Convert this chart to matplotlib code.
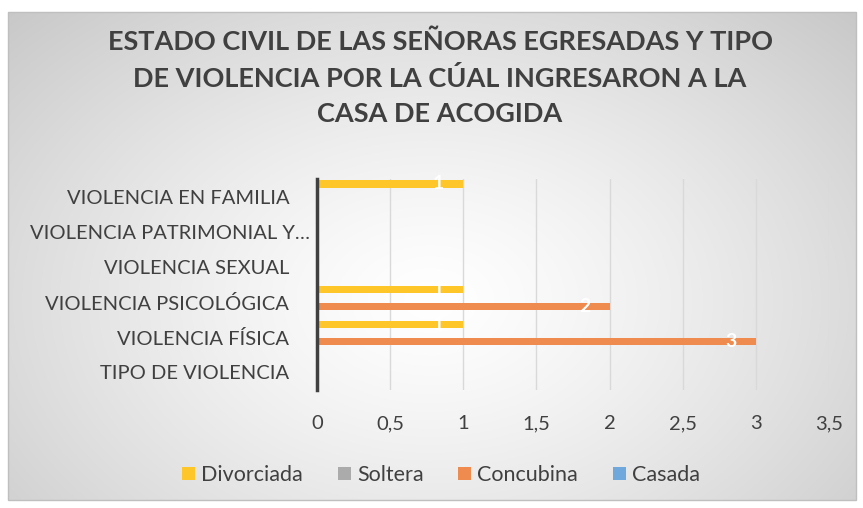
import numpy as np
import matplotlib
matplotlib.use("Agg")
import matplotlib.pyplot as plt
from matplotlib.transforms import ScaledTranslation
from matplotlib.patches import Rectangle

categorias = ["TIPO DE VIOLENCIA", "VIOLENCIA FÍSICA", "VIOLENCIA PSICOLÓGICA",
              "VIOLENCIA SEXUAL", "VIOLENCIA PATRIMONIAL Y…", "VIOLENCIA EN FAMILIA"]
series = ["Casada", "Concubina", "Soltera", "Divorciada"]
casada = [0, 0, 0, 0, 0, 0]
concubina = [0, 3, 2, 0, 0, 0]
soltera = [0, 0, 0, 0, 0, 0]
divorciada = [0, 1, 1, 0, 0, 1]
colores = ["#6FA8DC", "#EF8B4F", "#ABABAB", "#FFC629"]

plt.rcParams["font.family"] = ["Lato", "DejaVu Sans"]
txt = "#404040"

fig = plt.figure(figsize=(8.63, 5.08), dpi=100)

# radial gradient background
bg = fig.add_axes([0, 0, 1, 1], zorder=-2)
yy, xx = np.mgrid[0:508, 0:863]
r = np.sqrt(((xx - 430) / 600.0) ** 2 + ((yy - 300) / 420.0) ** 2)
v = np.clip(1.0 - 0.22 * r ** 1.3, 0, 1)
img = np.dstack([v, v, v])
img[:12, :] = 1
img[500:, :] = 1
img[:, :8] = 1
img[:, 856:] = 1
bg.imshow(img, aspect="auto", extent=[0, 863, 508, 0])
bg.add_patch(Rectangle((8, 12), 848, 488, fill=False, ec="#bfbfbf", lw=1))
bg.set_xlim(0, 863)
bg.set_ylim(508, 0)
bg.axis("off")

ax = fig.add_axes([317 / 863, 1 - 390 / 508, (829 - 317) / 863, 211 / 508])
ax.patch.set_alpha(0)

y = np.arange(len(categorias))
step = 0.24
h = 0.21
datos = [casada, concubina, soltera, divorciada]
offs = [-1.5 * step, -0.5 * step, 0.5 * step, 1.5 * step]
for vals, col, off, name in zip(datos, colores, offs, series):
    bars = ax.barh(y + off, vals, height=h, color=col, label=name, zorder=3)
    for b, val in zip(bars, vals):
        if val > 0:
            ax.annotate(str(val), (val, b.get_y() + b.get_height() / 2),
                        xytext=(-14, 0), textcoords="offset points",
                        ha="right", va="center", color="white",
                        fontsize=14, fontweight="bold", zorder=4)

ax.set_xlim(0, 3.5)
ax.set_ylim(-0.5, len(categorias) - 0.5)
ticks = np.arange(0, 3.51, 0.5)
ax.set_xticks(ticks)
ax.set_xticklabels([f"{t:g}".replace(".", ",") for t in ticks], fontsize=14.5, color=txt)
ax.set_yticks(y)
ax.set_yticklabels(categorias, fontsize=14.5, color=txt)
ax.tick_params(axis="both", length=0)
ax.tick_params(axis="y", pad=20)
ax.tick_params(axis="x", pad=18)
lab = ax.get_yticklabels()[4]
lab.set_transform(lab.get_transform() + ScaledTranslation(0.21, 0, fig.dpi_scale_trans))

ax.grid(axis="x", color="#d9d9d9", lw=1, zorder=0)
for s in ["top", "right", "bottom"]:
    ax.spines[s].set_visible(False)
ax.spines["left"].set_color("#404040")
ax.spines["left"].set_linewidth(2.5)
ax.spines["left"].set_zorder(5)

fig.text(440 / 863, 1 - 78 / 508,
         "ESTADO CIVIL DE LAS SEÑORAS EGRESADAS Y TIPO\nDE VIOLENCIA POR LA CÚAL INGRESARON A LA\nCASA DE ACOGIDA",
         ha="center", va="center", fontsize=19.5, fontweight="bold", color=txt,
         linespacing=1.57)

handles, labels = ax.get_legend_handles_labels()
fig.legend(handles[::-1], labels[::-1], loc="center", bbox_to_anchor=(441 / 863, 1 - 475 / 508),
           ncol=4, frameon=False, fontsize=15.5, labelcolor=txt, handlelength=0.6,
           handleheight=0.6, handletextpad=0.3, columnspacing=1.6)

fig.savefig("out.png", dpi=100)
